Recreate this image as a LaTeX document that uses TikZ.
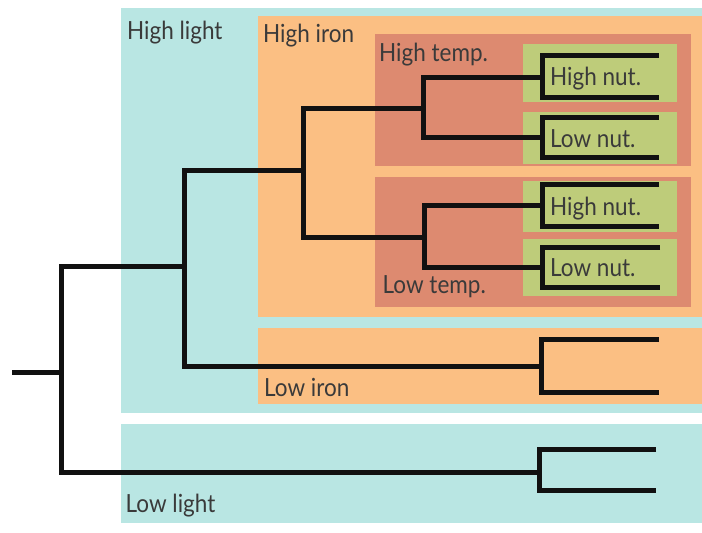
\documentclass[tikz,border=0pt]{standalone}
\usepackage{fontspec}
\setmainfont{Lato}[FakeStretch=0.9]
\definecolor{lightbg}{HTML}{B9E6E3}
\definecolor{ironbg}{HTML}{FBBF83}
\definecolor{tempbg}{HTML}{DD8A70}
\definecolor{nutbg}{HTML}{BECC7A}
\definecolor{labeltxt}{HTML}{3A3A3A}
\definecolor{branch}{HTML}{111111}
\begin{document}
\begin{tikzpicture}[x=1pt,y=-1pt,
  lbl/.style={anchor=base west,inner sep=0pt,text=labeltxt,
    font=\fontsize{25}{28}\selectfont},
  tree/.style={draw=branch,line width=5pt,line join=miter,line cap=butt}]
\useasboundingbox (0,0) rectangle (702,533);

% treatment panels
\fill[lightbg] (121,8) rectangle (702,412.5);
\fill[lightbg] (121,423.5) rectangle (702,522.5);
\fill[ironbg] (258,16) rectangle (702,316.5);
\fill[ironbg] (258,327.5) rectangle (702,403.5);
\fill[tempbg] (374.5,34) rectangle (690.5,166);
\fill[tempbg] (374.5,176.5) rectangle (690.5,307);
\fill[nutbg] (523,44) rectangle (676.5,102);
\fill[nutbg] (523,111.5) rectangle (676.5,163.5);
\fill[nutbg] (523,180.5) rectangle (676.5,231.5);
\fill[nutbg] (523,238.5) rectangle (676.5,295.5);

% panel labels
\node[lbl] (tHL) at (127,39.5) {High light};
\node[lbl] (tHI) at (263,42.5) {High iron};
\node[lbl] (tHT) at (379,61.5) {High temp.};
\node[lbl] (tHN1) at (550,85.5) {High nut.};
\node[lbl] (tLN1) at (550,147.5) {Low nut.};
\node[lbl] (tHN2) at (550,215) {High nut.};
\node[lbl] (tLN2) at (550,276) {Low nut.};
\node[lbl] (tLT) at (382.5,293.5) {Low temp.};
\node[lbl] (tLI) at (264,396) {Low iron};
\node[lbl] (tLL) at (125.5,512) {Low light};

% branching points
\coordinate (stub) at (12,372);
\coordinate (root) at (61,372);
\coordinate (hl) at (184,266);
\coordinate (ll) at (539,472);
\coordinate (hi) at (303,170);
\coordinate (li) at (541,366);
\coordinate (ht) at (423,108);
\coordinate (lt) at (424,237);
\coordinate (hn1) at (542,77);
\coordinate (ln1) at (542,137);
\coordinate (hn2) at (542,205);
\coordinate (ln2) at (542,267);
% tips
\coordinate (ll1) at (656,449.5);
\coordinate (ll2) at (656,490);
\coordinate (li1) at (659,339.5);
\coordinate (li2) at (659,392.5);
\coordinate (hn1a) at (659,55);
\coordinate (hn1b) at (659,97);
\coordinate (ln1a) at (659,117);
\coordinate (ln1b) at (659,157);
\coordinate (hn2a) at (659,184.5);
\coordinate (hn2b) at (659,226.5);
\coordinate (ln2a) at (660,247);
\coordinate (ln2b) at (660,287.5);

% tree
\draw[tree] (stub) -- (root);
\draw[tree] (hl) -| (root) |- (ll);
\draw[tree] (ll1) -| (ll) |- (ll2);
\draw[tree] (hi) -| (hl) |- (li);
\draw[tree] (li1) -| (li) |- (li2);
\draw[tree] (ht) -| (hi) |- (lt);
\draw[tree] (hn1) -| (ht) |- (ln1);
\draw[tree] (hn2) -| (lt) |- (ln2);
\draw[tree] (hn1a) -| (hn1) |- (hn1b);
\draw[tree] (ln1a) -| (ln1) |- (ln1b);
\draw[tree] (hn2a) -| (hn2) |- (hn2b);
\draw[tree] (ln2a) -| (ln2) |- (ln2b);
\end{tikzpicture}
\end{document}
